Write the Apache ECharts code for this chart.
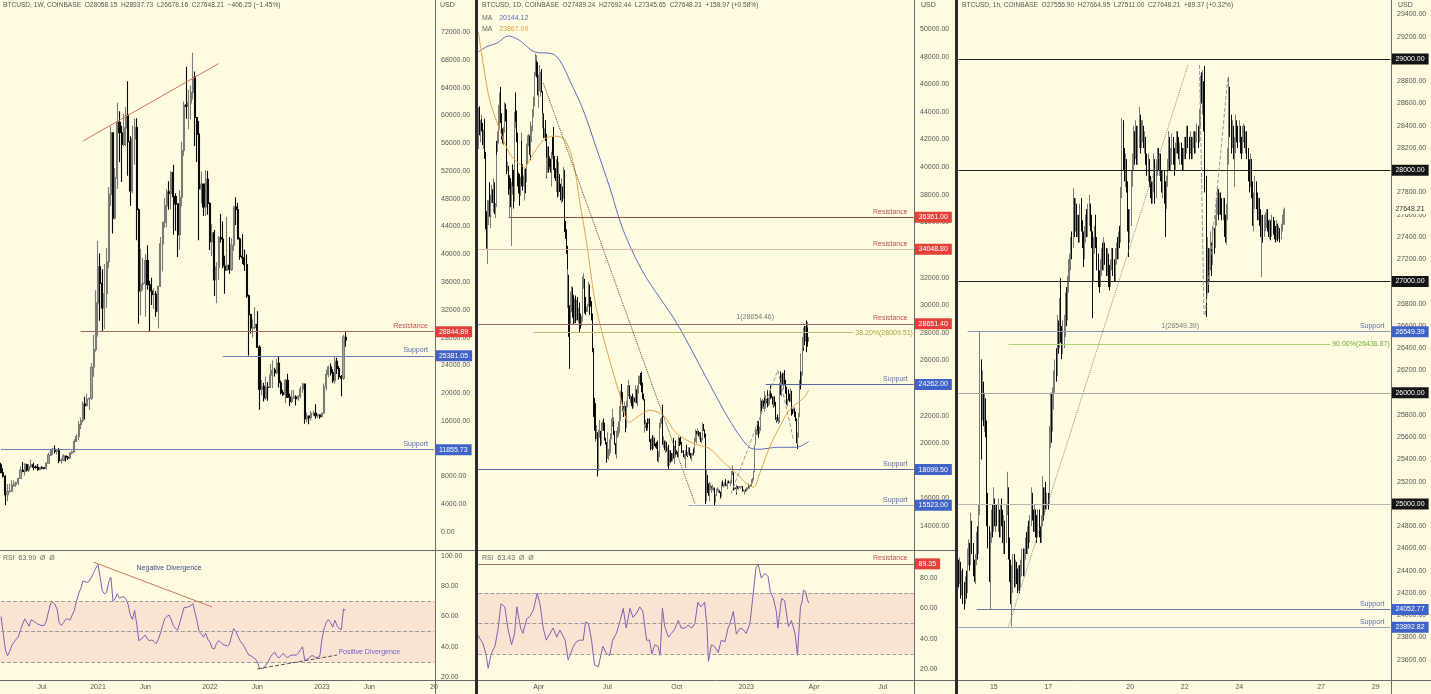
<!DOCTYPE html>
<html><head><meta charset="utf-8">
<script src="https://cdn.jsdelivr.net/npm/echarts@6/dist/echarts.min.js"></script>
<style>html,body{margin:0;padding:0;background:#FFFBE1;}#c{width:1431px;height:694px;}</style>
</head><body><div id="c"></div>
<script>
// ================= WEEKLY (panel 1) — prices in hundreds of USD, weeks from 2020-02-24 =================
const wkOpen0 = 96.6;
const wkClose = [
85.3,80.3,53.6,58.3,58.8,67.7,69.0,71.0,77.0,89.0,87.2,96.7,89.1,94.4,96.7,93.4,93.0,90.0,92.9,92.3,
91.6,99.2,110.7,119.0,119.1,116.5,117.1,102.5,103.3,109.2,107.7,106.7,113.9,115.0,130.3,137.6,154.8,160.6,184.1,181.8,
191.5,192.7,237.3,262.8,330.0,
382,358,322.6,343,389,486,575,452,510,590,575,558,582,600,562,491,566,582.5,464,347,357,358,391,356,347,342,342.5,318,354,415,
446,470,490,488,517.5,483,472.5,428,482,549.5,615,613,618,633,655,597,573,494,501,468,508,473,
418,431,363,381.5,424,422,383,377,384,378,413,468,464,422,397,395,385,340,313,294,294.5,299,266,205.5,210,193,208.5,208,226,233,
229.5,243,215,200.5,198,218.3,194.2,188,193,194.2,192,195.6,206,213,163.3,167,164.5,171,171,167.5,168.4,166,
171.2,208.8,227,237.5,229.3,218,246,235.5,224,221.5,280.5,276.5];
const wkHigh = [
99.9,91.9,81.8,69.0,69.5,74.7,74.6,72.9,77.2,94.6,100.7,99.5,98.4,97.5,104.3,99.9,95.9,98.0,93.3,94.8,
93.4,100.2,114.0,119.0,120.9,124.7,118.1,120.8,106.0,111.8,109.9,109.5,114.9,117.2,133.5,140.6,159.7,164.8,188.0,194.9,
199.2,194.2,243.0,284.0,348.0,
419.5,401,378.5,386,409.5,497,583.5,575,524,618,606,585,602,612,649,570,585,595,596,466,408,395,400,413,362,366,351,347,354,425,
447,481,494,505,520,529,488,473,492,562,620,670,637,643,690,663,597,592,519,501,521,520,
475,444,435,389,426,458,447,398,454,425,423,469,482,474,424,429,407,400,342,314,306,324,318,269,219,215,224,216,242,247,
236.5,249,252,218,205,220,228,199,204,204.5,197,197,210,215,214,172,167.5,174,174.5,184,170.5,169.5,
172,214,234,239.5,242.5,234.5,252.5,251,239,226,284,289.4];
const wkLow = [
84.6,78.4,38.5,44.4,56.9,58.6,64.7,64.7,67.6,76.4,86.0,81.2,87.0,86.4,92.7,89.1,91.0,88.3,89.0,90.4,
90.2,90.1,98.8,109.4,111.0,112.9,111.2,99.0,98.8,102.0,101.4,103.8,105.3,111.8,114.1,129.8,132.1,148.5,157.9,162.0,
181.1,175.7,190.0,223.5,259.5,
281.5,304.2,288,292.4,323,379.9,470,430,450,494,532.5,504,555,556,513,470,488,529,420,300,312,348,310,349,288,327,321,310,293,353,
375,438,439,464,465,428,434,396,407,469,542,595,580,594,623,556,533,420,473,455,455,457,
406,397,340,329.5,362.5,417,380,343,376,372,376,405,442,422,392,386,376,337,254,286,280,292,266,176,197,188,190,189,208,207,
224,227,208,198,196,185.5,193,181.5,185,191.5,182,189,192.5,200.5,156,158,155,160.5,167.5,163,164,163,
165.5,171,204.2,223,225.5,214.5,213.5,227.5,219.5,195.5,219,266.8];
const wkRSI = [
60,49,38,34,37,41,43,45,46.5,51, 55,58.5,56,53.6,58,57,56,55,54.5,54,
54,57,63,68.6,69.5,68,65,56,54,56, 58,58.5,57.5,61,64,70,75,78.5,83.5,83,
82.5,83.5,86,89,92,94.3,86,77,75,76, 83,86,70,72,75,72,73,73,71.5,68,
61,58,64,55,44,45,46.5,47.6,45,44, 44.5,43.5,42,45,49,54,58.5,60,61,58,
54,52,51,56,61,66,66,66.5,67,68.6, 63,57,50,48.5,46.3,49,45,43,39,38.5,
42,44,43,41.5,41,40.5,41.5,47,52,50, 47,44,42,40,37,34.5,34,33,32,30,
26,25.5,26,28,30,33,35,36.5,34,32.5, 34,35.7,34,32.5,34,34.5,34.5,34.5,35.7,38,
40,31,31.5,32.5,34,34,33,33,33.8,45, 52,56,58,56,53,57.5,54,52,51.3,65,
64];
const wkCount = 202;
const wkTickIdx = [19,45,67,97,119,149,171,201];
const wkTickTxt = ['Jul','2021','Jun','2022','Jun','2023','Jun','20'];
const wkResistance = [28844.89];
const wkSupport = [25381.05, 11855.73];

// ================= DAILY (panel 2) — hundreds of USD, days from 2022-01-11 =================
const dOpen0 = 418;
const dClose = [
427,439,426,431,432,431,422,424,417,407,365,351,363,367,370,368,372,377,382,379,385,
387,370,373,416,414,424,438,440,444,436,424,422,421,426,445,439,405,400,401,384,370,383,373,383,392,391,377,432,
444,439,425,391,394,384,380,387,419,394,388,388,378,397,393,411,409,418,422,413,410,424,429,440,444,445,468,471,474,471,455,
463,458,464,466,455,432,434,423,428,422,395,401,412,399,406,404,397,408,415,414,405,397,395,394,404,381,392,397,386,377,
385,385,377,397,365,360,355,341,301,310,290,289,293,301,313,298,304,287,303,292,294,303,291,297,295,292,286,290,294,317,318,
298,304,297,298,299,314,311,302,301,291,284,266,225,221,226,204,205,190,206,206,207,200,211,212,215,210,207,203,201,190,
193,193,193,202,202,205,216,216,216,209,200,193,202,206,208,212,208,225,234,232,232,227,224,226,213,212,229,238,236,236,233,
233,229,228,226,233,232,232,238,232,239,240,244,244,243,241,239,233,232,208,211,215,214,215,214,216,202,200,196,203,198,200,
201,199,198,200,198,188,193,193,214,216,218,224,202,202,197,198,201,194,195,189,185,194,193,189,188,192,191,194,196,194,
193,191,196,203,202,199,195,194,194,191,190,191,194,192,191,193,195,193,191,190,192,192,196,193,201,208,203,206,208,206,205,
205,202,202,212,213,209,206,185,159,176,171,168,163,166,169,167,167,167,167,163,158,162,166,166,165,165,164,162,164,172,
170,171,169,171,170,171,168,172,171,171,171,172,178,178,174,166,168,167,164,169,168,168,168,168,168,169,167,165,166,166,165,
166,167,167,169,168,170,169,171,172,174,179,188,199,209,209,212,211,207,211,227,228,227,229,226,231,230,231,230,238,228,231,
237,235,234,233,229,228,232,229,218,216,219,218,218,222,243,235,246,246,243,248,244,242,239,232,232,236,235,231,
236,235,224,223,224,224,222,217,204,202,206,221,242,248,244,250,274,269,280.6,278,282,273,283,274.9,276.5];
const dHigh = [
430,443,444,434,438,435,432,427,425,435,411,368,366,376,376,389,375,380,387,384,387,
392,389,374,417,419,426,445,454,448,458,439,428,427,429,447,446,442,409,404,401,394,384,392,389,397,402,398,440,
449,454,441,425,396,396,395,393,425,419,402,394,393,399,399,417,414,423,424,423,420,433,430,442,451,448,469,482,481,477,476,
467,472,474,469,471,455,439,439,428,434,424,407,415,415,408,407,406,411,418,422,429,408,399,399,406,408,395,404,395,388,
387,392,386,400,398,366,361,355,343,326,322,300,310,303,314,313,308,307,305,307,296,304,306,298,302,298,294,292,295,321,323,
319,306,306,299,301,317,315,313,306,303,294,286,269,233,227,229,213,208,208,210,217,209,212,215,216,218,215,212,204,201,
208,194,196,203,207,207,218,225,219,216,209,200,203,209,212,216,216,227,238,243,234,237,227,230,227,214,231,242,244,246,242,
235,234,236,232,234,233,233,242,239,242,249,244,249,251,252,242,244,236,232,214,217,215,217,218,218,218,203,201,204,206,205,
202,204,200,200,201,202,194,195,215,218,219,225,228,205,202,199,202,201,197,196,199,195,195,193,192,193,204,198,197,202,
195,194,197,205,204,205,201,196,195,195,192,192,195,199,192,194,197,197,193,193,193,193,197,196,204,210,209,207,211,209,208,
207,208,204,213,215,214,210,207,186,181,177,171,169,172,171,169,168,170,168,168,163,163,167,168,166,167,166,165,165,172,
173,171,172,172,174,171,171,173,173,172,173,172,180,184,179,175,168,168,168,170,169,169,169,169,169,169,169,168,167,166,167,
166,168,168,171,169,170,170,172,174,175,180,191,199,212,210,214,216,216,212,228,233,231,232,231,238,233,235,232,239,238,233,
238,242,237,236,234,232,234,234,230,219,219,221,219,223,244,252,250,247,251,251,253,245,246,241,232,237,239,236,
240,238,235,225,226,226,225,223,218,203,208,222,246,265,252,252,277,277,284,285,285,289,288,284,276.9];
const dLow = [
413,425,423,418,426,426,416,413,411,406,355,341,346,330,358,364,356,362,374,374,367,
380,366,363,371,409,411,417,427,432,432,420,417,418,416,425,433,401,395,397,380,368,364,371,343,380,386,370,375,
428,433,418,386,386,381,372,379,387,386,383,386,376,376,381,389,405,402,415,409,405,409,418,426,436,441,444,466,469,465,452,
443,456,455,451,454,431,428,421,421,419,392,393,396,396,398,400,396,386,406,409,398,392,393,390,382,378,379,389,382,376,
374,381,375,377,359,353,348,337,300,298,277,254,287,286,295,291,295,286,287,287,289,292,289,287,293,280,283,285,288,293,312,
294,296,293,295,295,299,293,299,299,289,281,266,219,209,201,203,203,176,180,197,204,198,199,208,209,209,205,202,199,186,
189,189,188,191,193,198,203,212,214,206,199,192,189,196,204,205,208,208,216,230,223,224,219,223,213,208,211,226,235,234,232,
229,227,227,225,226,230,229,232,229,227,239,236,243,242,238,237,232,231,208,208,211,209,209,211,214,201,198,195,196,195,198,
196,198,197,196,196,187,186,190,193,211,214,216,199,197,195,193,197,194,183,188,181,184,186,188,187,187,189,185,190,192,
192,190,190,195,198,199,193,193,193,190,189,189,182,191,190,191,192,191,190,189,187,191,191,192,193,201,202,200,206,205,203,
203,201,200,202,211,209,204,172,156,158,164,167,162,158,166,164,164,166,165,162,155,157,162,165,164,164,164,160,161,164,
169,168,169,169,169,169,167,167,171,171,171,169,171,177,173,166,166,167,163,164,167,166,168,168,167,168,166,165,165,163,165,
165,165,166,167,168,167,169,169,171,171,173,179,187,199,206,206,209,204,207,209,224,223,225,225,223,229,225,229,230,226,227,
228,234,232,233,228,226,227,227,217,215,216,216,214,215,221,235,234,244,242,239,242,236,236,228,227,231,231,230,
230,232,220,221,222,222,219,216,200,196,199,204,219,241,239,242,249,267,269,271,274,266,272,270,273.5];
// moving averages & RSI: [day index, value]
const dMA200 = [[0,48350],[11,48720],[24,48960],[40,49490],[54,49200],[74,48350],[99,48190],[110,47540],[121,46300],[139,44130],[156,41450],[174,38550],[192,35440],[219,32320],[263,28700],[306,24350],[333,21670],[359,19710],[373,19570],[395,19710],[422,19710],[438,20144.12]];
const dMA50 = [[0,49780],[7,47250],[15,44850],[27,42900],[41,41010],[53,40290],[61,40000],[70,40720],[86,41960],[99,42250],[114,42030],[126,40290],[134,37600],[143,34700],[156,29860],[174,26020],[187,23600],[200,21520],[214,22030],[227,22390],[245,22030],[263,20700],[285,20000],[306,19640],[325,18620],[342,17830],[355,17100],[365,16810],[373,17830],[386,19710],[399,21160],[412,22390],[424,22970],[432,23330],[438,23867.09]];
const dRSI = [[0,42],[2,40],[6,37],[10,30],[13,20.5],[17,30],[22,35],[26,46],[30,63],[35,61],[39,47],[44,36],[48,43.5],[51,61],[56,47],[59,43.5],[64,53],[68,54.5],[73,59],[78,70],[82,62],[86,47],[90,39],[95,43.5],[99,47],[104,41],[108,45.7],[115,39],[119,26],[121,25],[126,35],[130,38],[134,39],[139,39],[142,51],[146,50],[150,39],[154,22.6],[159,21.5],[161,26],[165,35],[170,30],[174,29],[178,39],[183,43.5],[188,52],[192,60],[196,47],[201,60],[205,54],[210,57],[214,61],[218,58],[223,39],[227,39],[230,30],[234,36],[238,35],[241,29],[244,60],[247,48],[252,41],[256,43.5],[260,46],[265,52],[269,47],[274,47],[278,49],[283,47],[287,50],[291,64],[295,61],[300,64],[303,48],[305,25],[309,36],[313,35],[318,31],[322,39],[327,38],[331,47],[333,49],[338,58],[342,43],[347,47],[351,46],[355,43.5],[360,50],[364,68],[368,87],[371,89],[375,80],[380,83],[384,81],[387,71],[391,66.6],[395,58],[397,47],[402,66.6],[406,65],[411,48],[415,52],[420,43],[423,29],[425,30],[427,61],[429,64],[431,72],[434,71],[436,66],[438,63.43]];
const dCount = 578;
const dTickIdx = [80,171,263,355,445,536];
const dTickTxt = ['Apr','Jul','Oct','2023','Apr','Jul'];

// ================= HOURLY (panel 3) — tens of USD, hours from 2023-03-13 17:00 =================
const hOpen0 = 2440;
const hClose = [
2430,2445,2425,2435,2420,2415,2430,2425,2455,2460,2450,2480,2460,2445,2435,2450,2470,2460,2490,2610,
2590,2605,2580,2590,2570,2490,2470,2450,2470,2490,2480,2500,2485,2495,2485,2490,2475,2495,2485,2470,
2480,2470,2495,2510,2460,2440,2420,2435,2445,2430,2445,2435,2425,2440,2430,2445,2455,2440,2455,2465,
2460,2475,2470,2485,2500,2490,2480,2495,2485,2475,2490,2475,2470,2485,2505,2495,2510,2500,2505,2500,
2560,2590,2570,2595,2610,2625,2620,2655,2645,2670,2650,2640,2645,2655,2680,2670,2695,2710,2715,2735,
2730,2770,2750,2765,2745,2755,2740,2760,2750,2735,2725,2740,2755,2745,2760,2765,2750,2740,2710,2730,
2745,2735,2720,2700,2695,2710,2725,2715,2730,2725,2710,2720,2710,2700,2715,2725,2715,2705,2720,2730,
2725,2740,2735,2780,2830,2815,2795,2805,2785,2755,2740,2755,2790,2805,2830,2820,2835,2810,2830,2850,
2825,2835,2840,2825,2830,2810,2800,2805,2790,2780,2775,2785,2805,2780,2800,2815,2805,2810,2795,2785,
2795,2780,2770,2790,2805,2825,2805,2810,2830,2815,2800,2820,2830,2825,2815,2820,2810,2805,2815,2825,
2820,2835,2825,2820,2830,2815,2825,2830,2820,2830,2835,2830,2845,2880,2870,2875,2860,2790,2710,2725,
2700,2715,2730,2720,2740,2735,2755,2770,2780,2765,2775,2770,2760,2770,2755,2750,2760,2810,2870,2840,
2825,2835,2815,2820,2840,2830,2825,2835,2825,2820,2830,2835,2825,2830,2815,2800,2790,2805,2780,2760,
2770,2785,2775,2760,2770,2755,2745,2755,2745,2750,2755,2760,2750,2745,2750,2742,2755,2750,2745,2738,
2750,2742,2746,2740,2748,2755,2756,2764.8];
const hHigh = [
2450,2452,2448,2440,2442,2430,2435,2440,2460,2468,2465,2492,2485,2465,2450,2455,2475,2480,2500,2654.9,
2630,2620,2610,2600,2595,2575,2510,2480,2475,2495,2500,2515,2505,2500,2500,2505,2495,2500,2505,2495,
2490,2485,2500,2529,2515,2470,2450,2445,2455,2455,2450,2448,2442,2445,2445,2450,2460,2460,2460,2470,
2475,2480,2485,2490,2515,2510,2495,2500,2495,2490,2495,2495,2480,2490,2525,2515,2515,2520,2510,2510,
2570,2600,2600,2605,2620,2630,2640,2670,2665,2685,2703,2660,2665,2670,2690,2695,2705,2720,2725,2740,
2745,2784,2775,2775,2770,2760,2760,2770,2775,2755,2745,2750,2760,2765,2770,2778,2770,2760,2745,2740,
2750,2760,2740,2725,2710,2720,2730,2735,2740,2735,2730,2730,2725,2715,2720,2730,2730,2720,2730,2735,
2740,2745,2750,2785,2847,2845,2820,2815,2810,2790,2765,2765,2800,2815,2840,2835,2845,2840,2840,2857,
2850,2845,2845,2840,2835,2830,2815,2815,2810,2795,2790,2790,2815,2810,2810,2820,2820,2815,2815,2800,
2800,2800,2790,2795,2810,2835,2830,2820,2833,2830,2820,2825,2835,2835,2830,2825,2825,2820,2820,2830,
2830,2840,2840,2830,2835,2830,2830,2835,2835,2835,2842,2840,2855,2885,2888,2890,2880,2893.8,2795,2740,
2730,2730,2745,2735,2750,2748,2760,2775,2785,2783,2780,2780,2775,2775,2775,2760,2770,2820,2884,2875,
2850,2845,2840,2830,2850,2845,2840,2845,2840,2830,2840,2842,2840,2835,2835,2820,2810,2815,2810,2790,
2780,2795,2790,2780,2775,2775,2765,2760,2760,2760,2762,2765,2765,2755,2756,2755,2760,2758,2755,2750,
2755,2752,2750,2748,2752,2760,2765,2766.5];
const hLow = [
2425,2428,2415,2418,2410,2405,2410,2415,2420,2445,2440,2445,2455,2435,2430,2428,2445,2450,2455,2490,
2540,2575,2570,2565,2560,2480,2460,2430,2405.3,2465,2470,2475,2480,2475,2480,2475,2470,2470,2480,2465,
2455,2455,2465,2490,2450,2430,2410,2390,2420,2425,2425,2428,2420,2422,2420,2425,2435,2435,2435,2450,
2455,2455,2460,2465,2480,2485,2475,2475,2470,2465,2470,2470,2465,2465,2480,2485,2490,2495,2495,2495,
2500,2550,2555,2565,2585,2600,2610,2615,2635,2640,2645,2630,2635,2640,2650,2660,2665,2690,2700,2710,
2720,2730,2740,2745,2740,2740,2735,2735,2745,2730,2713,2720,2735,2740,2740,2750,2745,2730,2667,2700,
2725,2730,2710,2695,2690,2695,2705,2710,2710,2715,2705,2705,2695,2692,2695,2710,2705,2700,2700,2715,
2720,2720,2730,2735,2775,2800,2790,2785,2780,2745,2722,2735,2750,2785,2800,2805,2810,2805,2805,2820,
2815,2820,2825,2820,2815,2805,2795,2790,2785,2775,2770,2770,2780,2770,2775,2795,2800,2795,2790,2780,
2775,2770,2740,2765,2785,2800,2800,2800,2805,2805,2795,2800,2815,2815,2810,2805,2805,2800,2800,2810,
2810,2815,2820,2810,2815,2810,2810,2820,2815,2815,2825,2820,2825,2840,2860,2850,2835,2780,2668,2690,
2690,2700,2710,2705,2715,2725,2730,2750,2760,2755,2760,2760,2755,2755,2740,2735,2733,2755,2805,2830,
2815,2820,2810,2785,2815,2825,2820,2825,2815,2810,2815,2825,2820,2815,2810,2790,2780,2785,2775,2750,
2745,2765,2765,2755,2755,2750,2740,2704,2735,2740,2745,2748,2745,2740,2738,2737,2740,2742,2738,2735,
2737,2736,2738,2735,2738,2745,2751,2751.1];
const hCount = 381;
const hTickIdx = [31,79,151,199,247,319,367];
const hTickTxt = ['15','17','20','22','24','27','29'];

// ================= build =================
const BG = '#FFFBE1';
const FONT = '"Liberation Sans", Arial, sans-serif';
function candles(open0, close, high, low, unit) {
  const out = []; let o = open0;
  for (let i = 0; i < close.length; i++) { out.push([o * unit, close[i] * unit, low[i] * unit, high[i] * unit]); o = close[i]; }
  return out;
}
function cats(n) { return Array.from({length: n}, (_, i) => 'c' + i); }
function xAx(grid, n, ticks, txt, show, margin) {
  const map = {}; ticks.forEach((t, k) => map[t] = txt[k]);
  return { type: 'category', gridIndex: grid, data: cats(n), boundaryGap: true,
    axisLine: {show: false}, axisTick: {show: false}, splitLine: {show: false},
    axisLabel: show ? {show: true, interval: (i) => map[i] !== undefined, formatter: (v, i) => map[i] || '',
      fontSize: 7, color: '#555', margin: margin} : {show: false} };
}
function yAx(grid, min, max, interval, hide) {
  return { type: 'value', gridIndex: grid, position: 'right', min, max, interval,
    axisLine: {show: false}, axisTick: {show: false}, splitLine: {show: false},
    axisLabel: {fontSize: 7, color: '#555', margin: 6, formatter: v => hide.indexOf(v) >= 0 ? '' : v.toFixed(2)} };
}
const RED = '#e5413b', BLUE = '#3f63c8';
function lvl(v, from, to, color, boxColor, text, textColor, boxText) {
  const items = [[
    {coord: [from, v], lineStyle: {color: color, width: 1, type: 'solid'},
      label: boxColor ? {show: true, position: 'end', formatter: boxText || v.toFixed(2), backgroundColor: boxColor,
        color: '#fff', fontSize: 7, lineHeight: 8, padding: [2, 4, 1, 4], distance: 1} : {show: false}},
    {coord: [to, v]}]];
  if (text) items.push([
    {coord: [from, v], lineStyle: {color: 'rgba(0,0,0,0)', width: 1},
      label: {show: true, position: 'insideEndTop', formatter: text, color: textColor, fontSize: 7, distance: [6, 2]}},
    {coord: [to, v]}]);
  return items;
}
function seg(x0, y0, x1, y1, color, type) {
  return [{coord: [x0, y0], lineStyle: {color: color, type: type, width: 1}, label: {show: false}}, {coord: [x1, y1]}];
}
function txtPt(x, y, text, color) {
  return {coord: [x, y], symbol: 'circle', symbolSize: 1, itemStyle: {color: 'rgba(0,0,0,0)'},
    label: {show: true, position: 'inside', formatter: text, color: color, fontSize: 7}};
}
const candleStyle = {color: '#a6a6a0', color0: '#0a0a0a', borderColor: '#7c7c77', borderColor0: '#0a0a0a'};
const RSIC = '#7b61b5';
function rsiBand(last) {
  return {
    markArea: {silent: true, itemStyle: {color: '#fbe3d2'}, data: [[{yAxis: 30}, {yAxis: 70}]]},
    lines: [70, 50, 30].map(v => [{coord: [0, v], lineStyle: {color: '#9a9a9a', type: 'dashed', width: 1}, label: {show: false}}, {coord: [last, v]}])
  };
}
const b1 = rsiBand(wkCount - 1), b2 = rsiBand(dCount - 1);
const W = wkCount - 1, D = dCount - 1, H = hCount - 1;

const option = {
  backgroundColor: BG, animation: false,
  textStyle: {fontFamily: FONT},
  grid: [
    {left: 0, top: 4.26, width: 435, height: 527.74},
    {left: 0, top: 556, width: 435, height: 121},
    {left: 478, top: 1.4, width: 436, height: 552.4},
    {left: 478, top: 547.7, width: 436, height: 121.3},
    {left: 958, top: 14.5, width: 433, height: 667.5}
  ],
  xAxis: [
    xAx(0, wkCount, wkTickIdx, wkTickTxt, false, 0),
    xAx(1, wkCount, wkTickIdx, wkTickTxt, true, 7),
    xAx(2, dCount, dTickIdx, dTickTxt, false, 0),
    xAx(3, dCount, dTickIdx, dTickTxt, true, 15),
    xAx(4, hCount, hTickIdx, hTickTxt, true, 2)
  ],
  yAxis: [
    yAx(0, 0, 76000, 4000, [76000]),
    yAx(1, 20, 100, 20, []),
    yAx(2, 12000, 52000, 2000, [12000, 52000]),
    yAx(3, 20, 100, 20, [100]),
    yAx(4, 23400, 29400, 200, [23400])
  ],
  series: [
    {type: 'candlestick', xAxisIndex: 0, yAxisIndex: 0, data: candles(wkOpen0, wkClose, wkHigh, wkLow, 100),
      barWidth: 1.6, clip: false, itemStyle: Object.assign({borderWidth: 1.1}, candleStyle),
      markLine: {symbol: ['none', 'none'], silent: true, label: {show: false}, data: [].concat(
        lvl(wkResistance[0], 37, W, '#a06b5e', RED, 'Resistance', '#c0504d'),
        lvl(wkSupport[0], 103, W, '#6f7fb3', BLUE, 'Support', '#5a6ab0'),
        lvl(wkSupport[1], 0, W, '#6f7fb3', BLUE, 'Support', '#5a6ab0'),
        [seg(38, 56300, 101, 67450, '#d4735e', 'solid')]
      )}},
    {type: 'line', xAxisIndex: 1, yAxisIndex: 1, data: wkRSI, showSymbol: false, clip: false,
      lineStyle: {color: RSIC, width: 1}, z: 3,
      markArea: b1.markArea,
      markLine: {symbol: ['none', 'none'], silent: true, label: {show: false}, data: b1.lines.concat([
        seg(43, 95.9, 98, 66.3, '#c8785e', 'solid'),
        seg(119, 25.3, 156, 34.5, '#555', 'dashed')])},
      markPoint: {silent: true, data: [txtPt(78, 92, 'Negative Divergence', '#3c4f8f'), txtPt(171, 36.5, 'Positive Divergence', '#6b5fc7')]}},
    {type: 'candlestick', xAxisIndex: 2, yAxisIndex: 2, data: candles(dOpen0, dClose, dHigh, dLow, 100),
      barWidth: 0.5, clip: false, itemStyle: Object.assign({borderWidth: 1}, candleStyle),
      markLine: {symbol: ['none', 'none'], silent: true, label: {show: false}, data: [].concat(
        lvl(36361.00, 40, D, '#8e4e4e', RED, 'Resistance', '#c0504d'),
        lvl(34048.80, 0, D, '#dcbcae', RED, 'Resistance', '#c0504d'),
        lvl(28651.40, 0, D, '#8e6a6a', RED, 'Resistance', '#c0504d'),
        lvl(24262.00, 381, D, '#5566a0', BLUE, 'Support', '#5a6ab0'),
        lvl(18099.50, 0, D, '#5566a0', BLUE, 'Support', '#5a6ab0'),
        lvl(15523.00, 279, D, '#9aaad0', BLUE, 'Support', '#5a6ab0'),
        [[{coord: [73, 28009.51], lineStyle: {color: '#bcbc66', width: 1, type: 'solid'},
           label: {show: true, position: 'end', formatter: '38.20%(28009.51)', color: '#a3a636', fontSize: 7, distance: 2}},
          {coord: [497, 28009.51]}]],
        [seg(86, 46090, 287, 15650, '#444', 'dotted'),
         seg(335, 16380, 397, 25290, '#999', 'dashed'),
         seg(397, 25290, 418, 20220, '#999', 'dashed')]
      )},
      markPoint: {silent: true, data: [txtPt(367, 29130, '1(28654.46)', '#777')]}},
    {type: 'line', xAxisIndex: 2, yAxisIndex: 2, data: dMA200, showSymbol: false, smooth: 0.3, lineStyle: {color: '#5a6fc0', width: 1}},
    {type: 'line', xAxisIndex: 2, yAxisIndex: 2, data: dMA50, showSymbol: false, smooth: 0.3, lineStyle: {color: '#e2a54a', width: 1}},
    {type: 'line', xAxisIndex: 3, yAxisIndex: 3, data: dRSI, showSymbol: false, clip: false,
      lineStyle: {color: RSIC, width: 1}, z: 3,
      markArea: b2.markArea,
      markLine: {symbol: ['none', 'none'], silent: true, label: {show: false}, data: b2.lines.concat(
        lvl(89.35, 0, D, '#a06b5e', RED, 'Resistance', '#c0504d', '89.35'))}},
    {type: 'candlestick', xAxisIndex: 4, yAxisIndex: 4, data: candles(hOpen0, hClose, hHigh, hLow, 10),
      barWidth: 0.7, clip: false, itemStyle: Object.assign({borderWidth: 1}, candleStyle),
      markLine: {symbol: ['none', 'none'], silent: true, label: {show: false}, data: [].concat(
        lvl(29000, 0, H, '#222', '#141414'),
        lvl(28000, 0, H, '#222', '#141414'),
        lvl(27000, 0, H, '#222', '#141414'),
        lvl(26000, 0, H, '#a8a8a0', '#141414'),
        lvl(25000, 0, H, '#b8b8b0', '#141414'),
        lvl(26549.39, 8, H, '#8a96b8', BLUE, 'Support', '#5a6ab0'),
        lvl(24052.77, 16, H, '#6a78a8', BLUE, 'Support', '#5a6ab0'),
        lvl(23892.82, 0, H, '#9aa7c8', BLUE, 'Support', '#5a6ab0'),
        [[{coord: [44, 26436.87], lineStyle: {color: '#a8d67a', width: 1, type: 'solid'},
           label: {show: true, position: 'end', formatter: '90.00%(26436.87)', color: '#6aaa3a', fontSize: 7, distance: 2}},
          {coord: [327, 26436.87]}]],
        [[{coord: [0, 27648.21], lineStyle: {color: 'rgba(0,0,0,0)', width: 1},
           label: {show: true, position: 'end', formatter: '27648.21', color: '#333', backgroundColor: BG, fontSize: 7, padding: [1, 4], distance: 1}},
          {coord: [H, 27648.21]}]],
        [seg(44, 23900, 202, 28950, '#888', 'dotted'),
         seg(212, 28946, 216, 26700, '#999', 'dashed'),
         seg(217, 26700, 237, 28840, '#999', 'dashed')]
      )},
      markPoint: {silent: true, data: [txtPt(195, 26600, '1(26549.39)', '#777')]}}
  ],
  graphic: [
    {type: 'rect', shape: {x: 475, y: 0, width: 3, height: 694}, style: {fill: '#2b2b2b'}, z: 100},
    {type: 'rect', shape: {x: 955, y: 0, width: 3, height: 694}, style: {fill: '#2b2b2b'}, z: 100},
    {type: 'line', shape: {x1: 435.5, y1: 0, x2: 435.5, y2: 694}, style: {stroke: '#6a6a6a', lineWidth: 1}, z: 99},
    {type: 'line', shape: {x1: 914.5, y1: 0, x2: 914.5, y2: 694}, style: {stroke: '#6a6a6a', lineWidth: 1}, z: 99},
    {type: 'line', shape: {x1: 1391.5, y1: 0, x2: 1391.5, y2: 694}, style: {stroke: '#6a6a6a', lineWidth: 1}, z: 99},
    {type: 'line', shape: {x1: 0, y1: 550.5, x2: 955, y2: 550.5}, style: {stroke: '#6a6a6a', lineWidth: 1}, z: 99},
    {type: 'line', shape: {x1: 0, y1: 680.5, x2: 1431, y2: 680.5}, style: {stroke: '#6a6a6a', lineWidth: 1}, z: 99},
    {type: 'text', left: 3, top: 2, z: 101, style: {text: 'BTCUSD, 1W, COINBASE  O28058.15  H28937.73  L26678.16  C27648.21  \u2212406.25 (\u22121.45%)', fill: '#555', fontSize: 6.6, fontFamily: FONT}},
    {type: 'text', left: 482, top: 2, z: 101, style: {text: 'BTCUSD, 1D, COINBASE  O27489.24  H27692.44  L27345.65  C27648.21  +158.97 (+0.58%)', fill: '#555', fontSize: 6.6, fontFamily: FONT}},
    {type: 'text', left: 962, top: 2, z: 101, style: {text: 'BTCUSD, 1h, COINBASE  O27556.90  H27664.95  L27511.00  C27648.21  +89.37 (+0.32%)', fill: '#555', fontSize: 6.6, fontFamily: FONT}},
    {type: 'text', left: 482, top: 12, z: 101, style: {text: '{a|MA}  {b|20144.12}', rich: {a: {fill: '#666', fontSize: 7, fontFamily: FONT}, b: {fill: '#5a6fc0', fontSize: 7, fontFamily: FONT}}}},
    {type: 'text', left: 482, top: 23, z: 101, style: {text: '{a|MA}  {b|23867.09}', rich: {a: {fill: '#666', fontSize: 7, fontFamily: FONT}, b: {fill: '#e2a54a', fontSize: 7, fontFamily: FONT}}}},
    {type: 'text', left: 3, top: 555, z: 101, style: {text: 'RSI  63.99  \u00d8  \u00d8', fill: '#666', fontSize: 7, fontFamily: FONT}},
    {type: 'text', left: 482, top: 555, z: 101, style: {text: 'RSI  63.43  \u00d8  \u00d8', fill: '#666', fontSize: 7, fontFamily: FONT}},
    {type: 'text', left: 440, top: 2, z: 101, style: {text: 'USD', fill: '#555', fontSize: 7, fontFamily: FONT}},
    {type: 'text', left: 921, top: 2, z: 101, style: {text: 'USD', fill: '#555', fontSize: 7, fontFamily: FONT}},
    {type: 'rect', shape: {x: 1394, y: 0, width: 34, height: 10}, style: {fill: BG}, z: 100},
    {type: 'text', left: 1398, top: 2, z: 101, style: {text: 'USD', fill: '#555', fontSize: 7, fontFamily: FONT}}
  ]
};
const chart = echarts.init(document.getElementById('c'), null, {renderer: 'canvas'});
chart.setOption(option);
</script></body></html>
